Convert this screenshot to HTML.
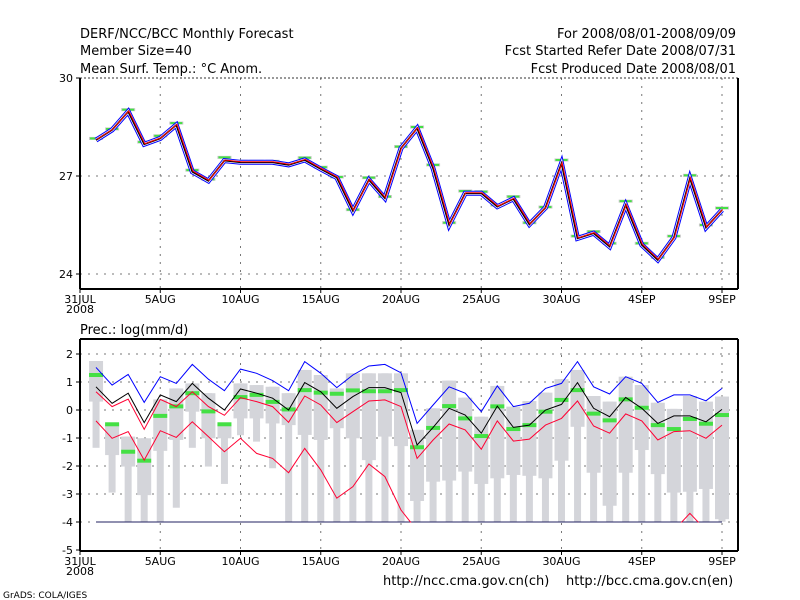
<!DOCTYPE html>
<html><head><meta charset="utf-8"><style>
body{margin:0;background:#fff;}
svg{display:block;font-family:"DejaVu Sans","Liberation Sans",sans-serif;}
text{font-size:13px;fill:#000;}
</style></head><body>
<svg id="c" width="800" height="600">
<text x="80" y="38">DERF/NCC/BCC Monthly Forecast</text>
<text x="80" y="55">Member Size=40</text>
<text x="80" y="73">Mean Surf. Temp.: °C Anom.</text>
<text x="736" y="38" text-anchor="end">For 2008/08/01-2008/09/09</text>
<text x="736" y="55" text-anchor="end">Fcst Started Refer Date 2008/07/31</text>
<text x="736" y="73" text-anchor="end">Fcst Produced Date 2008/08/01</text>
<text x="80" y="334">Prec.: log(mm/d)</text>
<text x="383" y="585">http://ncc.cma.gov.cn(ch)</text>
<text x="566" y="585">http://bcc.cma.gov.cn(en)</text>
<text x="3" y="598" style="font-size:9px">GrADS: COLA/IGES</text>
</svg>
<script>
const xTickLabels=["31JUL","5AUG","10AUG","15AUG","20AUG","25AUG","30AUG","4SEP","9SEP"];
const xTickDays=[0,5,10,15,20,25,30,35,40];
const tTicks=[30,27,24];
const tMean=[28.10,28.41,28.97,27.97,28.15,28.56,27.13,26.85,27.47,27.42,27.42,27.42,27.34,27.49,27.21,26.95,25.93,26.88,26.32,27.85,28.46,27.23,25.50,26.47,26.47,26.06,26.30,25.52,26.03,27.39,25.09,25.25,24.84,26.11,24.89,24.43,25.11,26.93,25.42,25.96];
const tObs=[28.15,28.44,29.03,28.04,28.23,28.62,27.18,26.90,27.57,27.45,27.45,27.45,27.37,27.56,27.27,26.97,25.97,26.95,26.37,27.90,28.50,27.34,25.57,26.54,26.52,26.11,26.37,25.57,26.05,27.49,25.16,25.30,24.94,26.23,24.94,24.51,25.16,27.02,25.50,26.02];
const pTicks=[2,1,0,-1,-2,-3,-4,-5];
const pMax=[1.75,-0.48,-0.95,-1.01,0.38,0.77,0.95,0.60,-0.54,0.95,0.89,0.83,0.60,1.43,1.25,0.77,1.31,1.31,1.31,1.31,-0.71,0.06,1.05,0.44,-0.24,0.86,0.12,0.32,0.62,1.10,1.43,0.50,0.30,1.19,0.89,0.26,0.04,0.50,0.30,0.48];
const pQ1=[0.30,-1.61,-2.02,-3.04,-1.46,-1.07,-0.06,-1.01,-1.01,-0.30,-0.30,-0.48,-0.54,-0.89,-1.07,-0.65,-1.01,-1.79,-0.95,-1.29,-3.25,-2.56,-2.52,-2.20,-2.64,-2.44,-2.32,-2.35,-2.44,-1.81,-0.60,-2.24,-3.42,-2.24,-1.43,-2.29,-2.95,-2.92,-2.82,-3.90];
const pMin=[-1.35,-2.95,-3.99,-3.99,-3.99,-3.49,-1.35,-2.02,-2.64,-0.90,-1.13,-2.08,-3.99,-3.99,-3.99,-3.99,-3.99,-3.99,-3.99,-3.99,-3.99,-3.99,-3.99,-3.99,-3.99,-3.99,-3.99,-3.99,-3.99,-3.99,-3.99,-3.99,-3.99,-3.99,-3.99,-3.99,-3.99,-3.99,-3.99,-3.99];
const pObs=[1.25,-0.51,-1.49,-1.81,-0.21,0.13,0.60,-0.05,-0.51,0.46,0.54,0.29,0.02,0.71,0.62,0.58,0.70,0.67,0.67,0.71,-1.33,-0.64,0.14,-0.30,-0.93,0.13,-0.68,-0.54,-0.06,0.36,0.71,-0.13,-0.37,0.38,0.08,-0.54,-0.68,-0.32,-0.49,-0.18];
const pMean=[0.83,0.24,0.60,-0.45,0.54,0.30,0.95,0.42,0.00,0.75,0.60,0.42,0.00,0.98,0.65,0.06,0.48,0.80,0.80,0.62,-1.25,-0.62,0.06,-0.18,-0.83,0.14,-0.62,-0.54,0.00,0.20,0.98,0.06,-0.24,0.45,0.06,-0.48,-0.21,-0.21,-0.42,0.02];
const pBlue=[1.52,0.89,1.27,0.27,1.19,0.95,1.63,1.10,0.69,1.46,1.31,1.05,0.69,1.73,1.31,0.80,1.25,1.57,1.63,1.33,-0.48,0.18,0.83,0.60,-0.06,0.86,0.12,0.24,0.77,0.95,1.73,0.83,0.57,1.19,0.95,0.27,0.54,0.54,0.33,0.77];
const pRedUp=[0.65,0.12,0.39,-0.69,0.38,0.12,0.65,0.12,-0.19,0.44,0.30,0.12,-0.44,0.50,0.18,-0.45,-0.06,0.32,0.36,0.12,-1.73,-1.07,-0.50,-0.71,-1.40,-0.39,-1.11,-1.04,-0.54,-0.30,0.32,-0.57,-0.83,-0.14,-0.39,-1.07,-0.77,-0.74,-1.01,-0.54];
const pRedLo=[-0.39,-1.01,-0.77,-1.79,-0.74,-0.98,-0.42,-0.95,-1.49,-1.01,-1.55,-1.73,-2.24,-1.37,-2.14,-3.15,-2.74,-1.93,-2.38,-3.57,-4.3,-4.3,-4.3,-4.3,-4.3,-4.3,-4.3,-4.3,-4.3,-4.3,-4.3,-4.3,-4.3,-4.3,-4.3,-4.3,-4.3,-3.69,-4.3,-4.3];

const svg=document.getElementById('c');
const NS='http://www.w3.org/2000/svg';
function mk(tag,attrs,parent){const e=document.createElementNS(NS,tag);for(const k in attrs)e.setAttribute(k,attrs[k]);(parent||svg).appendChild(e);return e;}
const X0=80,X1=722;
function xd(d){return X0+d*(X1-X0)/40;}
function yt(v){return 176-(v-27)*32.67;}
function yp(v){return 410-v*28;}
const days=tMean.map((_,i)=>i+1);

const defs=mk('defs',{});
const cp=mk('clipPath',{id:'pc'},defs);
mk('rect',{x:80,y:339,width:658,height:183.5},cp);

function vgrid(y0,y1){xTickDays.forEach(d=>{if(d>0){const l=mk('line',{x1:xd(d),x2:xd(d),y1:y0,y2:y1,stroke:'#777','stroke-dasharray':'2,6'});

}});}
vgrid(78,289);vgrid(339,551);
[27,24].forEach(v=>{const l=mk('line',{x1:80,x2:738,y1:yt(v),y2:yt(v),stroke:'#777','stroke-dasharray':'2,6'});

});
pTicks.forEach(v=>{if(v>-5){const l=mk('line',{x1:80,x2:738,y1:yp(v),y2:yp(v),stroke:'#777','stroke-dasharray':'2,6'});

}});
mk('line',{x1:80,x2:738,y1:78,y2:78,stroke:'#333','stroke-dasharray':'2,2'});

function path(arr,yf){return arr.map((v,i)=>(i?'L':'M')+xd(days[i]).toFixed(1)+','+yf(v).toFixed(1)).join('');}
tObs.forEach((v,i)=>{const r=mk('rect',{x:xd(days[i])-7,y:yt(v)-1.5,width:14,height:3,fill:'#c8c8c8'});

});
tObs.forEach((v,i)=>{const r=mk('rect',{x:xd(days[i])-6,y:yt(v)-1,width:12,height:2,fill:'#44e044'});

});
const tp=path(tMean,yt);
let e=mk('path',{d:tp,fill:'none',stroke:'#0000ff','stroke-width':5,'stroke-linejoin':'miter'});


mk('path',{d:tp,fill:'none',stroke:'#fff','stroke-width':3});
e=mk('path',{d:tp,fill:'none',stroke:'#000','stroke-width':1.6});


e=mk('path',{d:tp,fill:'none',stroke:'#ff0000','stroke-width':1,transform:'translate(0.6,-0.6)'});



days.forEach((d,i)=>{const x=xd(d);
const w=mk('rect',{x:x-3.5,y:yp(pMax[i]),width:7,height:yp(pMin[i])-yp(pMax[i]),fill:'#d4d5da'});


const b=mk('rect',{x:x-7,y:yp(pMax[i]),width:14,height:yp(pQ1[i])-yp(pMax[i]),fill:'#d4d5da'});

});
pObs.forEach((v,i)=>{const r=mk('rect',{x:xd(days[i])-7,y:yp(v)-2,width:14,height:4,fill:'#44e044'});

});
e=mk('line',{x1:xd(1),x2:xd(40),y1:yp(-4),y2:yp(-4),stroke:'#202060','stroke-width':1});


[[pBlue,'#0000ff','precip-max-line'],[pRedUp,'#ff0033','precip-upper-line'],[pRedLo,'#ff0033','precip-lower-line'],[pMean,'#000','precip-mean-line']].forEach(s=>{
const p=mk('path',{d:path(s[0],yp),fill:'none',stroke:s[1],'stroke-width':1,'clip-path':'url(#pc)'});

});

[[78,289],[339,551]].forEach((f,k)=>{
mk('line',{x1:80,x2:80,y1:f[0],y2:f[1],stroke:'#000','stroke-width':2});
mk('line',{x1:738,x2:738,y1:f[0],y2:f[1],stroke:'#000','stroke-width':2});
mk('line',{x1:80,x2:738,y1:f[1],y2:f[1],stroke:'#000','stroke-width':2});
if(k==1)mk('line',{x1:80,x2:738,y1:f[0],y2:f[0],stroke:'#000','stroke-width':2});
xTickDays.forEach((d,j)=>{mk('line',{x1:xd(d),x2:xd(d),y1:f[1],y2:f[1]+4,stroke:'#000'});
const t=mk('text',{x:xd(d),y:f[1]+14,'text-anchor':'middle',style:'font-size:11px'});t.textContent=xTickLabels[j];

});
const y8=mk('text',{x:80,y:f[1]+24,'text-anchor':'middle',style:'font-size:11px'});y8.textContent='2008';


});
tTicks.forEach(v=>{mk('line',{x1:76,x2:80,y1:yt(v),y2:yt(v),stroke:'#000'});
const t=mk('text',{x:73,y:yt(v)+4,'text-anchor':'end',style:'font-size:11px'});t.textContent=v;

});
pTicks.forEach(v=>{mk('line',{x1:76,x2:80,y1:yp(v),y2:yp(v),stroke:'#000'});
const t=mk('text',{x:73,y:yp(v)+4,'text-anchor':'end',style:'font-size:11px'});t.textContent=v;

});
</script>
</body></html>
